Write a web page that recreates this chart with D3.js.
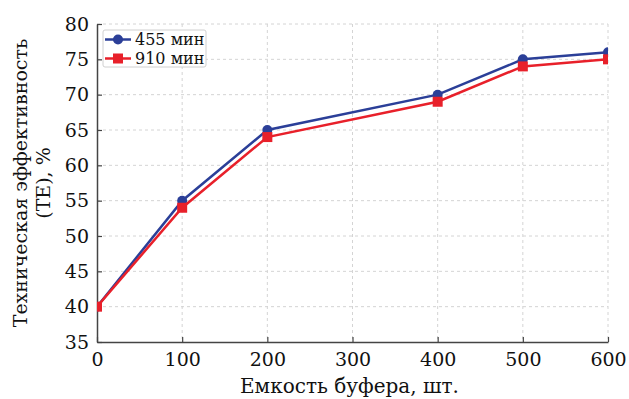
<!DOCTYPE html>
<html><head><meta charset="utf-8">
<script src="https://cdn.jsdelivr.net/npm/d3@7"></script>
<style>body{margin:0;background:#fff}svg{display:block}text{font-family:"DejaVu Serif","Liberation Serif",serif}</style>
</head><body>
<script>
const xValues = [0, 100, 200, 400, 500, 600];
const series455 = [40, 55, 65, 70, 75, 76];
const series910 = [40, 54, 64, 69, 74, 75];
const seriesNames = ["455 мин", "910 мин"];
const xTicks = [0, 100, 200, 300, 400, 500, 600];
const yTicks = [35, 40, 45, 50, 55, 60, 65, 70, 75, 80];
const xLabel = "Емкость буфера, шт.";
const yLabel1 = "Техническая эффективность";
const yLabel2 = "(TE), %";

const W = 629, H = 399;
const m = {l: 97, r: 21, t: 24, b: 57};
const iw = W - m.l - m.r, ih = H - m.t - m.b;
const svg = d3.select("body").append("svg").attr("width", W).attr("height", H);
const x = d3.scaleLinear().domain([0, 600]).range([0, iw]);
const y = d3.scaleLinear().domain([35, 80]).range([ih, 0]);
const g = svg.append("g").attr("transform", `translate(${m.l},${m.t})`);

svg.append("defs").append("clipPath").attr("id", "clip").append("rect").attr("width", iw).attr("height", ih);

// grid
g.append("g").selectAll("line").data(xTicks.slice(1)).join("line")
  .attr("x1", d => x(d)).attr("x2", d => x(d)).attr("y1", 0).attr("y2", ih)
  .attr("stroke", "#d4d4d4").attr("stroke-dasharray", "3,3").attr("stroke-width", 1);
g.append("g").selectAll("line").data(yTicks.slice(1)).join("line")
  .attr("y1", d => y(d)).attr("y2", d => y(d)).attr("x1", 0).attr("x2", iw)
  .attr("stroke", "#d4d4d4").attr("stroke-dasharray", "3,3").attr("stroke-width", 1);

// axes
const xa = g.append("g").attr("transform", `translate(0,${ih})`)
  .call(d3.axisBottom(x).tickValues(xTicks).tickSizeInner(-5).tickSizeOuter(0).tickPadding(8));
const ya = g.append("g")
  .call(d3.axisLeft(y).tickValues(yTicks).tickSizeInner(-5).tickSizeOuter(0).tickPadding(8));
[xa, ya].forEach(a => {
  a.select(".domain").attr("stroke", "#444").attr("stroke-width", 1.5);
  a.selectAll(".tick line").attr("stroke", "#444").attr("stroke-width", 1.2);
  a.selectAll("text").attr("font-size", 19).attr("fill", "#111").attr("font-family", '"DejaVu Serif",serif');
});
xa.selectAll("text").attr("dy", "0.85em");

const data = [
  {name: seriesNames[0], vals: series455, color: "#2b3f98", shape: "circle"},
  {name: seriesNames[1], vals: series910, color: "#e8202a", shape: "square"}
];
const line = d3.line().x(d => x(d[0])).y(d => y(d[1]));
const plot = g.append("g").attr("clip-path", "url(#clip)");
data.forEach(s => {
  const pts = xValues.map((v, i) => [v, s.vals[i]]);
  plot.append("path").datum(pts).attr("d", line).attr("fill", "none")
    .attr("stroke", s.color).attr("stroke-width", 2.5);
  if (s.shape === "circle") {
    plot.selectAll(null).data(pts).join("circle").attr("cx", d => x(d[0])).attr("cy", d => y(d[1]))
      .attr("r", 5).attr("fill", s.color);
  } else {
    plot.selectAll(null).data(pts).join("rect").attr("x", d => x(d[0]) - 5).attr("y", d => y(d[1]) - 5)
      .attr("width", 10).attr("height", 10).attr("fill", s.color);
  }
});

// legend
const lg = g.append("g").attr("transform", "translate(6,6)");
lg.append("rect").attr("width", 103).attr("height", 37).attr("rx", 2).attr("fill", "#fff")
  .attr("stroke", "#d0d0d0").attr("stroke-width", 1);
data.forEach((s, i) => {
  const yy = 9.5 + i * 19;
  lg.append("line").attr("x1", 2).attr("x2", 28).attr("y1", yy).attr("y2", yy)
    .attr("stroke", s.color).attr("stroke-width", 2.5);
  if (s.shape === "circle") lg.append("circle").attr("cx", 15).attr("cy", yy).attr("r", 5).attr("fill", s.color);
  else lg.append("rect").attr("x", 10).attr("y", yy - 5).attr("width", 10).attr("height", 10).attr("fill", s.color);
  lg.append("text").attr("x", 32).attr("y", yy).attr("dy", "0.35em").attr("font-size", 16)
    .attr("fill", "#111").text(s.name);
});

// labels
svg.append("text").attr("x", m.l + iw / 2 - 3).attr("y", 393).attr("text-anchor", "middle")
  .attr("font-size", 20).attr("fill", "#111").text(xLabel);
svg.append("text").attr("transform", `translate(27,${m.t + ih / 2}) rotate(-90)`).attr("text-anchor", "middle")
  .attr("font-size", 19).attr("fill", "#111").text(yLabel1);
svg.append("text").attr("transform", `translate(50,${m.t + ih / 2}) rotate(-90)`).attr("text-anchor", "middle")
  .attr("font-size", 19).attr("fill", "#111").text(yLabel2);
</script>
</body></html>
